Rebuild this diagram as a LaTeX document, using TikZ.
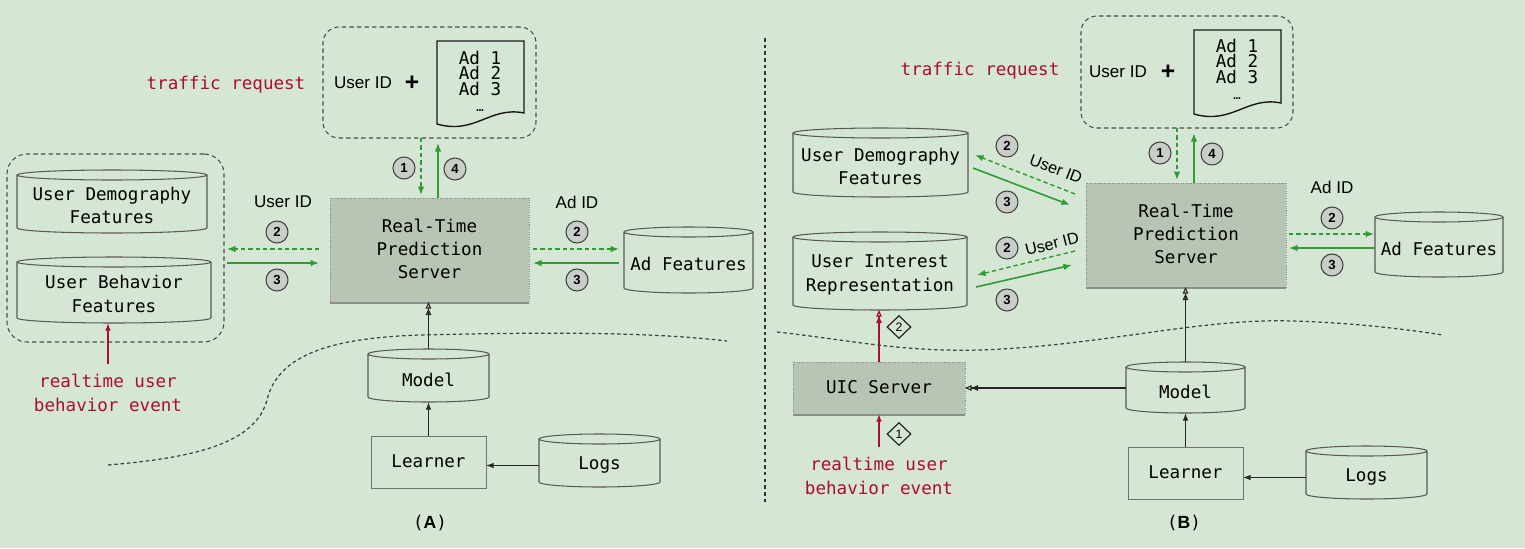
\documentclass[tikz,border=0pt]{standalone}
\usepackage{fontspec}
\setmainfont{Liberation Sans}
\setsansfont{Liberation Sans}
\setmonofont{DejaVu Sans Mono}
\usetikzlibrary{fit,calc,arrows.meta,shapes.geometric,shadows}
\definecolor{bg}{HTML}{D6E6D4}
\definecolor{srvfill}{HTML}{B8C5B5}
\definecolor{ggreen}{HTML}{2E9B33}
\definecolor{rred}{HTML}{A8102E}
\definecolor{circfill}{HTML}{C9CEC8}
\tikzset{
  base/.style={inner sep=0pt, outer sep=0pt},
  mono/.style={base, font=\fontsize{10}{13.3}\selectfont\ttfamily, align=center},
  sanslbl/.style={base, font=\fontsize{9.7}{11}\selectfont\sffamily},
  pluslbl/.style={base, font=\fontsize{14}{14}\selectfont\sffamily\bfseries},
  cyl/.style={base},
  cylline/.style={draw=black!65, line width=0.6pt},
  dbox/.style={base, draw=black!70, line width=0.6pt, dash pattern=on 2.5pt off 1.8pt, rounded corners=0.32cm},
  srv/.style={base, fill=srvfill, draw=black!45, line width=0.5pt, dash pattern=on 0.6pt off 0.8pt,
     drop shadow={shadow xshift=0pt, shadow yshift=-1.4pt, fill=black!70, opacity=0.55}},
  lrnbox/.style={base, draw=black!55, line width=0.5pt},
  adstxt/.style={base, font=\fontsize{10}{8.9}\selectfont\ttfamily, align=center},
  redtxt/.style={mono, text=rred},
  num/.style={circle, draw=black!75, fill=circfill, line width=0.6pt, minimum size=0.44cm, inner sep=0pt,
     font=\sffamily\bfseries\fontsize{7.5}{7.5}\selectfont},
  dia/.style={diamond, draw=black!85, line width=0.7pt, minimum width=0.48cm, minimum height=0.46cm, inner sep=0pt,
     font=\sffamily\fontsize{7}{7}\selectfont},
  gtip/.style={-{Latex[length=0.17cm,width=0.13cm]}},
  gdash/.style={draw=ggreen, line width=0.8pt, dash pattern=on 2.5pt off 1.7pt, gtip},
  gsolid/.style={draw=ggreen, line width=0.9pt, gtip},
  blk/.style={draw=black!85, line width=0.7pt, -{Latex[length=0.15cm,width=0.11cm]}},
  dtri/.style={-{Triangle[open,length=0.13cm,width=0.11cm]Triangle[open,length=0.13cm,width=0.11cm]}},
  opn/.style={draw=black!85, line width=0.6pt, dtri},
  redopn/.style={draw=rred, line width=0.7pt, dtri},
  redarr/.style={draw=rred, line width=0.8pt, -{Latex[length=0.15cm,width=0.11cm]}},
  docline/.style={draw=black!90, line width=0.8pt},
  curve/.style={draw=black!75, line width=0.7pt, dash pattern=on 2pt off 1.6pt},
}
\newcommand\drawcyl[1]{%
  \draw[cylline] let \p1=(#1.north west), \p2=(#1.north east), \n1={0.5*(\x2-\x1)} in
    ([yshift=0.1cm]#1.north west) -- ([yshift=0.1cm]#1.south west)
    arc[start angle=180, end angle=360, x radius=\n1, y radius=0.1cm]
    -- ([yshift=0.1cm]#1.north east)
    ([yshift=0.1cm]#1.north) ellipse[x radius=\n1, y radius=0.1cm];
}
% text inside a named shape
\newcommand\intext[2]{\node[mono] (#1txt) at ($(#1.center)+(0,-1)$) {#2};}
\begin{document}
\begin{tikzpicture}[x=0.02cm, y=-0.02cm]
\fill[bg] (0,0) rectangle (1525,548);
\useasboundingbox (0,0) rectangle (1525,548);

% ================= Panel A =================
\node[redtxt] (trA) at (226,85) {traffic request};
\node[dbox, fit={(323,27)(536,138)}] (topA) {};
\node[sanslbl] (uidA) at (363,83) {User ID};
\node[pluslbl] (plusA) at (412,83) {+};
\draw[docline] (437,41) -- (524,41) -- (524,113) .. controls (490,106) and (475,135) .. (437,124) -- cycle;
\node[adstxt] (adsA) at (480,81) {Ad 1\\Ad 2\\Ad 3\\{\scriptsize\ldots}};

\node[srv, fit={(330,198)(529,302)}] (srvA) {};
\intext{srvA}{Real-Time\\Prediction\\Server}

\node[dbox, rounded corners=0.4cm, fit={(7,154)(224,342)}] (lboxA) {};
\node[cyl, fit={(17,180)(207,233)}] (demoA) {};
\drawcyl{demoA}
\intext{demoA}{User Demography\\Features}
\node[cyl, fit={(17,267)(211,323)}] (behA) {};
\drawcyl{behA}
\intext{behA}{User Behavior\\Features}
\node[cyl, fit={(624,237)(753,293)}] (adfA) {};
\drawcyl{adfA}
\intext{adfA}{Ad Features}
\node[cyl, fit={(368,359)(489,402)}] (modelA) {};
\drawcyl{modelA}
\intext{modelA}{Model}
\node[lrnbox, fit={(371,436)(486,488)}] (learnA) {};
\intext{learnA}{Learner}
\node[cyl, fit={(539,444)(660,487)}] (logsA) {};
\drawcyl{logsA}
\intext{logsA}{Logs}
\node[redtxt] (rtA) at (108,393) {realtime user\\behavior event};

% arrows A
\draw[gdash, shorten >=0.06cm] (421,0 |- topA.south) -- (421,0 |- srvA.north);
\draw[gsolid, shorten >=0.1cm] (438,0 |- srvA.north) -- (438,0 |- topA.south);
\node[num] (n1A) at (404,168) {1};
\node[num] (n4A) at (455,169) {4};

\draw[gdash, shorten <=0.22cm, shorten >=0.06cm] (srvA.west |- 0,249) -- (lboxA.east |- 0,249);
\draw[gsolid, shorten <=0.06cm, shorten >=0.22cm] (lboxA.east |- 0,263) -- (srvA.west |- 0,263);
\node[sanslbl] (luidA) at (283,202) {User ID};
\node[num] (n2lA) at (277,232) {2};
\node[num] (n3lA) at (277,280) {3};

\draw[gdash, shorten <=0.08cm, shorten >=0.1cm] (srvA.east |- 0,249) -- (adfA.west |- 0,249);
\draw[gsolid, shorten <=0.1cm, shorten >=0.08cm] (adfA.west |- 0,263) -- (srvA.east |- 0,263);
\node[sanslbl] (adidA) at (577,202) {Ad ID};
\node[num] (n2rA) at (577,232) {2};
\node[num] (n3rA) at (577,280) {3};

\draw[opn, shorten <=0.2cm] (modelA.north) -- (modelA.north |- srvA.south);
\draw[blk] (learnA.north) -- (learnA.north |- modelA.south);
\draw[blk] (logsA.west) -- (logsA.west -| learnA.east);
\draw[redarr] ([yshift=0.2cm]rtA.north) -- (rtA.north |- behA.south);

\draw[curve] (108,465) .. controls (190,458) and (255,445) .. (267,400)
   .. controls (278,355) and (330,338) .. (420,335) .. controls (550,332) and (650,332) .. (727,341);
\node[base, font=\fontsize{10}{12}\selectfont] (capA) at (430,523) {{\ttfamily(}\textbf{\sffamily A}{\ttfamily)}};

% divider
\draw[draw=black!80, line width=0.6pt, dash pattern=on 2pt off 1.8pt] (765,38) -- (765,505);

% ================= Panel B =================
\node[redtxt] (trB) at (980,71) {traffic request};
\node[dbox, fit={(1081,16)(1293,128)}] (topB) {};
\node[sanslbl] (uidB) at (1118,72) {User ID};
\node[pluslbl] (plusB) at (1168,72) {+};
\draw[docline] (1194,30) -- (1281,30) -- (1281,103) .. controls (1247,96) and (1232,125) .. (1194,114) -- cycle;
\node[adstxt] (adsB) at (1237,69) {Ad 1\\Ad 2\\Ad 3\\{\scriptsize\ldots}};

\node[srv, fit={(1086,183)(1286,287)}] (srvB) {};
\intext{srvB}{Real-Time\\Prediction\\Server}
\node[cyl, fit={(793,138)(968,197)}] (demoB) {};
\drawcyl{demoB}
\intext{demoB}{User Demography\\Features}
\node[cyl, fit={(793,242)(967,310)}] (intB) {};
\drawcyl{intB}
\intext{intB}{User Interest\\Representation}
\node[cyl, fit={(1375,222)(1503,277)}] (adfB) {};
\drawcyl{adfB}
\intext{adfB}{Ad Features}
\node[srv, fit={(793,362)(965,414)}] (uicB) {};
\intext{uicB}{UIC Server}
\node[cyl, fit={(1126,372)(1245,413)}] (modelB) {};
\drawcyl{modelB}
\intext{modelB}{Model}
\node[lrnbox, fit={(1128,447)(1243,499)}] (learnB) {};
\intext{learnB}{Learner}
\node[cyl, fit={(1306,456)(1427,499)}] (logsB) {};
\drawcyl{logsB}
\intext{logsB}{Logs}
\node[redtxt] (rtB) at (879,476) {realtime user\\behavior event};

% arrows B
\draw[gdash, shorten >=0.06cm] (1177,0 |- topB.south) -- (1177,0 |- srvB.north);
\draw[gsolid, shorten >=0.1cm] (1194,0 |- srvB.north) -- (1194,0 |- topB.south);
\node[num] (n1B) at (1160,153) {1};
\node[num] (n4B) at (1212,154) {4};

\draw[gdash, shorten <=0.06cm, shorten >=0.02cm] (srvB.east |- 0,234) -- (adfB.west |- 0,234);
\draw[gsolid, shorten <=0.02cm, shorten >=0.06cm] (adfB.west |- 0,248) -- (srvB.east |- 0,248);
\node[sanslbl] (adidB) at (1332,187) {Ad ID};
\node[num] (n2rB) at (1332,218) {2};
\node[num] (n3rB) at (1332,265) {3};

\draw[gdash] ($(srvB.north west)+(-11,11)$) -- ($(demoB.east)+(7,-12.5)$);
\draw[gsolid] ($(demoB.east)+(5,0.5)$) -- ($(srvB.north west)+(-16,22)$);
\node[sanslbl, rotate=-21, font=\fontsize{9.2}{11}\selectfont\sffamily] (duid) at (1056,169) {User ID};
\node[num] (n2dB) at (1007,146) {2};
\node[num] (n3dB) at (1007,202) {3};

\draw[gdash] ($(srvB.north west)+(-11,68)$) -- ($(intB.east)+(10,-1)$);
\draw[gsolid] ($(intB.east)+(9,11)$) -- ($(srvB.north west)+(-14,82)$);
\node[sanslbl, rotate=14, font=\fontsize{9.2}{11}\selectfont\sffamily] (iuid) at (1052,244) {User ID};
\node[num] (n2iB) at (1007,248) {2};
\node[num] (n3iB) at (1007,300) {3};

\draw[opn, shorten <=0.2cm] (modelB.north) -- (modelB.north |- srvB.south);
\draw[opn] (modelB.west |- uicB.east) -- (uicB.east);
\draw[blk] (learnB.north) -- (learnB.north |- modelB.south);
\draw[blk] (logsB.west) -- (logsB.west -| learnB.east);
\draw[redopn] (uicB.north) -- (uicB.north |- intB.south);
\draw[redarr] ([yshift=0.2cm]rtB.north) -- (rtB.north |- uicB.south);
\node[dia] (d2) at (899,327) {2};
\node[dia] (d1) at (899,434) {1};

\draw[curve] (777,332) .. controls (850,340) and (900,352) .. (980,350)
   .. controls (1100,346) and (1200,318) .. (1292,321) .. controls (1360,323) and (1410,330) .. (1443,335);
\node[base, font=\fontsize{10}{12}\selectfont] (capB) at (1184,523) {{\ttfamily(}\textbf{\sffamily B}{\ttfamily)}};
\end{tikzpicture}
\end{document}
